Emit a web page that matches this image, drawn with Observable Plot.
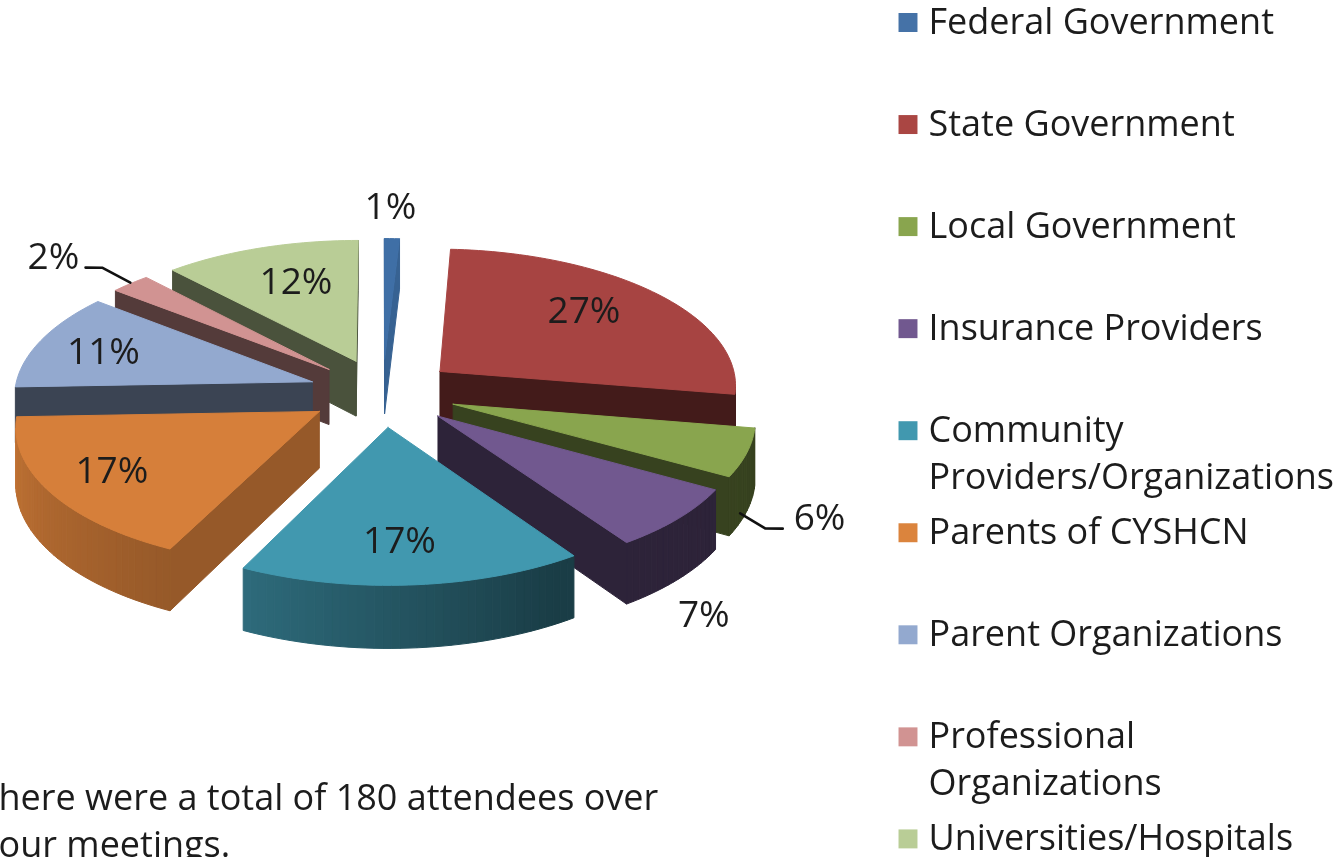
<!DOCTYPE html>
<html><head><meta charset="utf-8">
<script src="https://cdn.jsdelivr.net/npm/d3@7"></script>
<script src="https://cdn.jsdelivr.net/npm/@observablehq/plot@0.6"></script>
<style>html,body{margin:0;padding:0;background:#fff;overflow:hidden}svg{display:block}</style>
</head><body><div id="chart"></div>
<script>
const categories = ["Federal Government","State Government","Local Government","Insurance Providers","Community\nProviders/Organizations","Parents of CYSHCN","Parent Organizations","Professional\nOrganizations","Universities/Hospitals"];
const shares = [0.9,26.8,5.6,7.2,16.7,17.2,11.4,2.4,11.8];
const percentLabels = ["1%","27%","6%","7%","17%","17%","11%","2%","12%"];
const colors = ["#3f6fa6","#a74442","#89a54e","#71588f","#4198af","#d67f3a","#93a9cf","#d19392","#b9cd96"];
const swatches = ["#4572a7","#aa4643","#89a54e","#71588f","#4198af","#db843d","#93a9cf","#d19392","#b9cd96"];
const note = ["here were a total of 180 attendees over","our meetings."];
// label placement on the pie plane: bearing in degrees, radius in pie radii
const labelBearing = [0.7,47.5,121.8,146.5,177.5,238.5,288.2,311.9,339.8];
const labelRadius = [1.56,0.956,1.585,1.69,0.98,1.025,1.025,1.645,0.939];
const leaders = [
  [[126.3,1.369],[127.7,1.479],[126.5,1.523]],
  [[312.4,1.486],[314,1.441],[313.4,1.271]]
];
const paintOrder = [8,7,6,0,1,2,3,5,4];

// pie geometry
const cx=382, cy=392, R=298, K=137, A=0.09, H=56, EXPLODE=0.25, LABEL_DX=3;
const FONT = "'Open Sans', sans-serif";
const rad = d=>d*Math.PI/180;
const total = d3.sum(shares);
function project(u,v,z=0){const s=1/(1-A*v);return [cx+R*u*s, cy+K*v*s+H*s*z];}
const polar=(b,r)=>[r*Math.sin(rad(b)),-r*Math.cos(rad(b))];
const shadeOuter=d3.scaleLinear([150,205,270],[0.4,0.7,0.92]).clamp(true);
const shadeSide=a=>a<20?0.88:a<262?shadeOuter(a):0.4;
const dim=(c,k)=>{const r=d3.rgb(c);return d3.rgb(r.r*k,r.g*k,r.b*k).formatHex();};
// a wall hanging from edge p→q shows only when the slice's top face lies above that edge on screen
function faces(p,q,inner){
  const dx=q[0]-p[0],dy=q[1]-p[1];
  const c=dx*(inner[1]-p[1])-dy*(inner[0]-p[0]);
  return (dx>=0?c<0:c>0);
}

let cum=0;
const slices=shares.map((n,i)=>{const a0=cum/total*360;cum+=n;const a1=cum/total*360;
  const [ex,ey]=polar((a0+a1)/2,EXPLODE);return {i,a0,a1,ex,ey,color:colors[i]};});

const rows=[];let pid=0;
function poly(pts,fill){const id=pid++;[...pts,pts[0]].forEach(([x,y])=>rows.push({id,x,y,fill}));}
for(const k of paintOrder){
  const s=slices[k];
  const at=(a,r=1)=>{const [u,v]=polar(a,r);return [s.ex+u,s.ey+v];};
  const tip=[s.ex,s.ey];
  const mid=project(...at((s.a0+s.a1)/2,0.6));
  // cut walls
  for(const a of [s.a0,s.a1]){
    const e=at(a);
    if(!faces(project(...tip),project(...e),mid)) continue;
    poly([project(...tip),project(...e),project(...e,1),project(...tip,1)],dim(s.color,shadeSide(a)));
  }
  // outer wall
  const n=Math.max(2,Math.ceil((s.a1-s.a0)/1.5));
  const arc=d3.range(n+1).map(j=>s.a0+(s.a1-s.a0)*j/n);
  for(let j=0;j<n;j++){
    const p=at(arc[j]),q=at(arc[j+1]);
    if(!faces(project(...p),project(...q),project(...tip))) continue;
    poly([project(...p),project(...q),project(...q,1),project(...p,1)],dim(s.color,shadeOuter((arc[j]+arc[j+1])/2)));
  }
  // top face
  poly([project(...tip),...arc.map(a=>project(...at(a)))],s.color);
}

const labels=percentLabels.map((t,i)=>{const [x,y]=project(...polar(labelBearing[i],labelRadius[i]));return {x,y,t};});
const leaderRows=leaders.flatMap((l,g)=>l.map(([b,r])=>{const [x,y]=project(...polar(b,r));return {g,x,y};}));
const legendStep=102.05, legendTop=22;
const legend=categories.map((c,i)=>({c,i,y:legendTop+i*legendStep,fill:swatches[i]}));
const noteLines=note.map((t,i)=>({t,y:798+i*47}));

const chart=Plot.plot({
  width:1338,height:857,margin:0,
  x:{domain:[0,1338],range:[0,1338],axis:null},
  y:{domain:[0,857],range:[0,857],axis:null},
  color:{type:"identity"},
  style:{fontFamily:FONT,background:"#fff",overflow:"hidden",filter:"blur(0.6px)"},
  marks:[
    Plot.line(rows,{x:"x",y:"y",z:"id",fill:"fill",stroke:"fill",strokeWidth:1,curve:"linear"}),
    Plot.line(leaderRows,{x:"x",y:"y",z:"g",dx:LABEL_DX,dy:1,stroke:"#111",strokeWidth:2.6,curve:"linear"}),
    Plot.text(labels,{x:"x",y:"y",dx:LABEL_DX,dy:2,text:"t",fontSize:37,fill:"#1c1c1c"}),
    Plot.dot(legend,{x:()=>907.5,y:"y",r:10.7,symbol:"square",fill:"fill",stroke:null}),
    Plot.text(legend,{x:()=>928,y:d=>d.y-22,text:"c",textAnchor:"start",lineAnchor:"top",fontSize:36,lineHeight:1.305,fill:"#1c1c1c"}),
    Plot.text(noteLines,{x:()=>-2,y:"y",text:"t",textAnchor:"start",fontSize:36,fill:"#1c1c1c"})
  ]
});
document.getElementById("chart").append(chart);
</script></body></html>
